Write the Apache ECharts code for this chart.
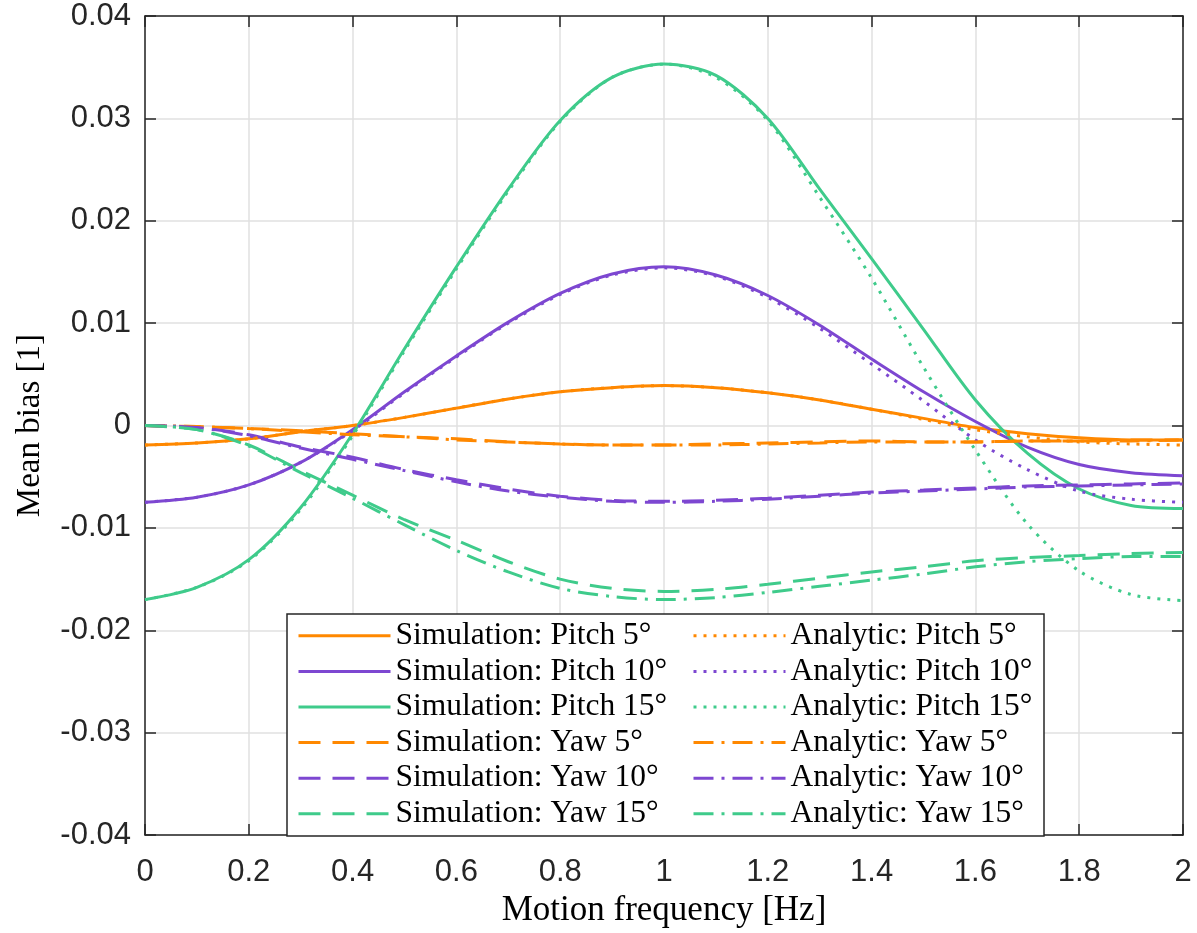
<!DOCTYPE html>
<html>
<head>
<meta charset="utf-8">
<script src="https://cdn.jsdelivr.net/npm/echarts@6/dist/echarts.min.js"></script>
<style>
  html, body { margin: 0; padding: 0; background: #fff; }
  #chart { width: 1197px; height: 933px; }
</style>
</head>
<body>
<div id="chart"></div>
<script>
// motion frequency [Hz]
const freq = [0, 0.1, 0.2, 0.3, 0.4, 0.5, 0.6, 0.7, 0.8, 0.9, 1.0, 1.1, 1.2, 1.3, 1.4, 1.5, 1.6, 1.7, 1.8, 1.9, 2.0];

// simulation, pitch
const simPitch5  = [-0.0019, -0.0017, -0.0013, -0.0006, 0.0000, 0.0008, 0.0017, 0.0026, 0.0033, 0.0037, 0.0039, 0.0037, 0.0032, 0.0025, 0.0016, 0.0007, -0.0002, -0.0008, -0.0012, -0.0014, -0.0014];
const simPitch10 = [-0.0075, -0.0070, -0.0058, -0.0036, -0.0004, 0.0033, 0.0068, 0.0101, 0.0129, 0.0148, 0.0155, 0.0147, 0.0127, 0.0098, 0.0065, 0.0033, 0.0004, -0.0021, -0.0038, -0.0046, -0.0049];
const simPitch15 = [-0.0170, -0.0158, -0.0131, -0.0080, -0.0008, 0.0075, 0.0155, 0.0231, 0.0298, 0.0340, 0.0353, 0.0342, 0.0300, 0.0231, 0.0163, 0.0094, 0.0025, -0.0027, -0.0062, -0.0078, -0.0081];
// simulation, yaw
const simYaw5  = [0, -0.0001, -0.0003, -0.0005, -0.0008, -0.0011, -0.0013, -0.0016, -0.0018, -0.0019, -0.0019, -0.0018, -0.0017, -0.0016, -0.0015, -0.0016, -0.0016, -0.0015, -0.0015, -0.0014, -0.0014];
const simYaw10 = [0, -0.0002, -0.0009, -0.0021, -0.0031, -0.0043, -0.0053, -0.0062, -0.0069, -0.0073, -0.0074, -0.0073, -0.0071, -0.0068, -0.0065, -0.0063, -0.0061, -0.0059, -0.0058, -0.0057, -0.0056];
const simYaw15 = [0, -0.0004, -0.0019, -0.0044, -0.0068, -0.0092, -0.0112, -0.0133, -0.0150, -0.0159, -0.0162, -0.0160, -0.0155, -0.0149, -0.0143, -0.0138, -0.0132, -0.0129, -0.0127, -0.0125, -0.0124];
// analytic, pitch
const anaPitch5  = [-0.0019, -0.0017, -0.0013, -0.0006, 0.0000, 0.0008, 0.0017, 0.0026, 0.0033, 0.0037, 0.0039, 0.0037, 0.0032, 0.0025, 0.0016, 0.0006, -0.0004, -0.0011, -0.0016, -0.0018, -0.0019];
const anaPitch10 = [-0.0075, -0.0070, -0.0058, -0.0036, -0.0005, 0.0032, 0.0067, 0.0100, 0.0128, 0.0147, 0.0154, 0.0146, 0.0125, 0.0095, 0.0060, 0.0024, -0.0014, -0.0043, -0.0064, -0.0072, -0.0075];
const anaPitch15 = [-0.0170, -0.0158, -0.0132, -0.0082, -0.0010, 0.0073, 0.0153, 0.0229, 0.0297, 0.0340, 0.0353, 0.0340, 0.0298, 0.0223, 0.0144, 0.0057, -0.0024, -0.0096, -0.0142, -0.0165, -0.0171];
// analytic, yaw
const anaYaw5  = [0, -0.0001, -0.0003, -0.0006, -0.0009, -0.0011, -0.0014, -0.0016, -0.0018, -0.0019, -0.0019, -0.0019, -0.0018, -0.0017, -0.0016, -0.0016, -0.0016, -0.0015, -0.0015, -0.0015, -0.0014];
const anaYaw10 = [0, -0.0002, -0.0010, -0.0022, -0.0033, -0.0044, -0.0055, -0.0064, -0.0070, -0.0074, -0.0075, -0.0074, -0.0072, -0.0069, -0.0066, -0.0064, -0.0062, -0.0060, -0.0059, -0.0058, -0.0057];
const anaYaw15 = [0, -0.0004, -0.0020, -0.0046, -0.0071, -0.0097, -0.0122, -0.0143, -0.0159, -0.0167, -0.0170, -0.0168, -0.0163, -0.0157, -0.0151, -0.0145, -0.0138, -0.0133, -0.0130, -0.0128, -0.0128];

const ORANGE = '#ff8800';
const PURPLE = '#7d47d1';
const GREEN = '#3fcb8b';

const DASHED = [22, 12];
const DOTTED = [3, 7];
const DASHDOT = [20, 8, 3, 8];

function pairs(ys) {
    return freq.map(function (x, i) { return [x, ys[i]]; });
}

function line(name, ys, color, type) {
    return {
        name: name,
        type: 'line',
        data: pairs(ys),
        symbol: 'none',
        smooth: 0.3,
        lineStyle: { color: color, width: 3, type: type },
        itemStyle: { color: color }
    };
}

const simNames = ['Simulation: Pitch 5°', 'Simulation: Pitch 10°', 'Simulation: Pitch 15°',
    'Simulation: Yaw 5°', 'Simulation: Yaw 10°', 'Simulation: Yaw 15°'];
const anaNames = ['Analytic: Pitch 5°', 'Analytic: Pitch 10°', 'Analytic: Pitch 15°',
    'Analytic: Yaw 5°', 'Analytic: Yaw 10°', 'Analytic: Yaw 15°'];

const fmt = function (v) { return String(+v.toFixed(2)); };
const axisColor = '#262626';
const sansFont = 'Liberation Sans, Arial, Helvetica, sans-serif';
const serifFont = 'Liberation Serif, Times New Roman, serif';

// the little box axes all share
function boxAxis(extra) {
    return Object.assign({
        type: 'value',
        axisLine: { show: true, onZero: false, lineStyle: { color: axisColor, width: 1.5 } },
        axisTick: { show: true, inside: true, length: 11, lineStyle: { color: axisColor, width: 1.5 } },
        axisLabel: { show: false },
        splitLine: { show: false }
    }, extra);
}

const legendCommon = {
    orient: 'vertical',
    padding: 0,
    itemGap: 0,
    itemWidth: 92,
    itemHeight: 14,
    top: 618,
    itemStyle: { opacity: 0, borderWidth: 0 },
    lineStyle: { width: 3 },
    textStyle: { fontFamily: serifFont, fontSize: 31.5, color: '#000', lineHeight: 35.6 },
    z: 10
};

const chart = echarts.init(document.getElementById('chart'));
chart.setOption({
    backgroundColor: '#fff',
    animation: false,
    grid: { left: 145, top: 16, right: 14, bottom: 97 },
    xAxis: [
        boxAxis({
            min: 0, max: 2, interval: 0.2,
            name: 'Motion frequency [Hz]', nameLocation: 'middle', nameGap: 47,
            nameTextStyle: { fontFamily: serifFont, fontSize: 35, color: '#000' },
            axisLabel: { margin: 22, fontFamily: sansFont, fontSize: 31, color: axisColor, formatter: fmt },
            splitLine: { show: true, lineStyle: { color: '#e0e0e0', width: 1.5 } }
        }),
        boxAxis({ min: 0, max: 2, interval: 0.2, position: 'top' })
    ],
    yAxis: [
        boxAxis({
            min: -0.04, max: 0.04, interval: 0.01,
            name: 'Mean bias [1]', nameLocation: 'middle', nameGap: 98,
            nameTextStyle: { fontFamily: serifFont, fontSize: 33, color: '#000' },
            axisLabel: { margin: 14, fontFamily: sansFont, fontSize: 31, color: axisColor, formatter: fmt },
            splitLine: { show: true, lineStyle: { color: '#e0e0e0', width: 1.5 } }
        }),
        boxAxis({ min: -0.04, max: 0.04, interval: 0.01, position: 'right' })
    ],
    legend: [
        Object.assign({}, legendCommon, { left: 297, data: simNames }),
        Object.assign({}, legendCommon, { left: 692, data: anaNames })
    ],
    graphic: [{
        type: 'rect',
        z: 5,
        shape: { x: 287, y: 614, width: 757, height: 222 },
        style: { fill: '#fff', stroke: axisColor, lineWidth: 1.5 }
    }],
    series: [
        line(simNames[0], simPitch5, ORANGE, 'solid'),
        line(simNames[1], simPitch10, PURPLE, 'solid'),
        line(simNames[2], simPitch15, GREEN, 'solid'),
        line(simNames[3], simYaw5, ORANGE, DASHED),
        line(simNames[4], simYaw10, PURPLE, DASHED),
        line(simNames[5], simYaw15, GREEN, DASHED),
        line(anaNames[0], anaPitch5, ORANGE, DOTTED),
        line(anaNames[1], anaPitch10, PURPLE, DOTTED),
        line(anaNames[2], anaPitch15, GREEN, DOTTED),
        line(anaNames[3], anaYaw5, ORANGE, DASHDOT),
        line(anaNames[4], anaYaw10, PURPLE, DASHDOT),
        line(anaNames[5], anaYaw15, GREEN, DASHDOT)
    ]
});
</script>
</body>
</html>
